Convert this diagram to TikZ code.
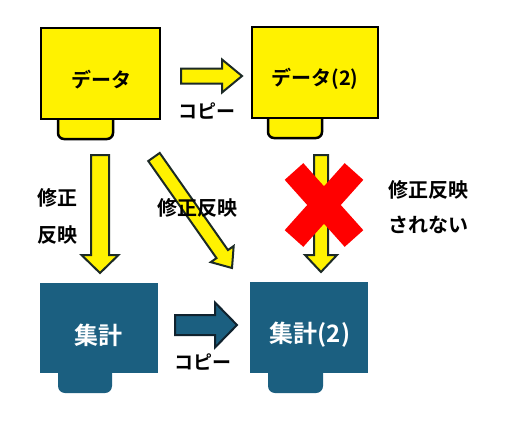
\documentclass[tikz,border=0pt]{standalone}
\usepackage{fontspec}
\newfontfamily\jp{Noto Sans CJK JP}[BoldFont={* Bold}]
\usetikzlibrary{calc}
\definecolor{tealbox}{HTML}{1B5F80}
\definecolor{arrowedge}{HTML}{1C2A26}
\definecolor{tealedge}{HTML}{10222E}
\tikzset{
  ybox/.style={fill=yellow, draw=black, line width=2.5pt},
  tbox/.style={fill=tealbox},
  yarrow/.style={fill=yellow, draw=arrowedge, line width=2pt, line join=miter},
  tarrow/.style={fill=tealbox, draw=tealedge, line width=2pt, line join=miter},
  boxtext/.style={font=\jp\bfseries\fontsize{20}{24}\selectfont, inner sep=0pt},
  boxtextw/.style={font=\jp\bfseries\fontsize{24}{28}\selectfont, text=white, inner sep=0pt},
  lbl/.style={font=\jp\bfseries\fontsize{20}{24}\selectfont, inner sep=0pt},
  cpy/.style={font=\jp\bfseries\fontsize{19}{22}\selectfont, inner sep=0pt},
  redx/.style={draw=red, line width=25pt}
}
% block arrow: start, end, shaft half width, head half width, head length, style
\newcommand\blockarrow[6]{%
  \draw[#6] ($(#1)!#3!90:(#2)$)
    -- ($($(#2)!#5!(#1)$)!#3!90:(#2)$)
    -- ($($(#2)!#5!(#1)$)!#4!90:(#2)$)
    -- (#2)
    -- ($($(#2)!#5!(#1)$)!#4!-90:(#2)$)
    -- ($($(#2)!#5!(#1)$)!#3!-90:(#2)$)
    -- ($(#1)!#3!-90:(#2)$) -- cycle;}
\begin{document}
\begin{tikzpicture}[x=1pt,y=-1pt]
\useasboundingbox[fill=white] (0,0) rectangle (506,423);
% top boxes
\draw[ybox, rounded corners=6pt] (58,110) -- (58,139) -- (113,139) -- (113,110);
\draw[ybox] (41,28) rectangle (160,119);
\node[boxtext] (data) at (101,80) {データ};
\draw[ybox, rounded corners=6pt] (268,110) -- (268,138) -- (322,138) -- (322,110);
\draw[ybox] (252,27) rectangle (378,118);
\node[boxtext] (data2) at (315,79) {データ(2)};
% bottom boxes
\fill[tbox, rounded corners=7pt] (58,365) -- (58,393) -- (112,393) -- (112,365) -- cycle;
\fill[tbox] (40,283) rectangle (158,373);
\node[boxtextw] (sum) at (98,335) {集計};
\fill[tbox, rounded corners=7pt] (268,365) -- (268,393) -- (323,393) -- (323,365) -- cycle;
\fill[tbox] (250,282) rectangle (368,373);
\node[boxtextw] (sum2) at (310,335) {集計(2)};
% arrow anchors
\coordinate (c1s) at (181,76);  \coordinate (c1e) at (242,76);
\coordinate (c2s) at (175,325); \coordinate (c2e) at (237,325);
\coordinate (d1s) at (100,155); \coordinate (d1e) at (100,273);
\coordinate (d2s) at (154,157); \coordinate (d2e) at (232,268);
\coordinate (d3s) at (321,155); \coordinate (d3e) at (321,272);
\blockarrow{c1s}{c1e}{7.5pt}{16.5pt}{20pt}{yarrow}
\blockarrow{c2s}{c2e}{10pt}{22.5pt}{22pt}{tarrow}
\blockarrow{d1s}{d1e}{9pt}{18.5pt}{18pt}{yarrow}
\blockarrow{d2s}{d2e}{7pt}{14pt}{17pt}{yarrow}
\blockarrow{d3s}{d3e}{7pt}{16pt}{17pt}{yarrow}
% red cross
\coordinate (x1) at (294,171.5); \coordinate (x2) at (354,238.5);
\coordinate (x3) at (354,171.5); \coordinate (x4) at (294,238.5);
\draw[redx] (x1) -- (x2);
\draw[redx] (x3) -- (x4);
% labels
\node[cpy] (cp1) at (207,111) {コピー};
\node[cpy] (cp2) at (203,362) {コピー};
\node[lbl] (l1) at (57,198) {修正};
\node[lbl] (l2) at (57,235) {反映};
\node[lbl] (l3) at (197,208) {修正反映};
\node[lbl] (l4) at (428,190) {修正反映};
\node[lbl] (l5) at (428,225) {されない};
\end{tikzpicture}
\end{document}
